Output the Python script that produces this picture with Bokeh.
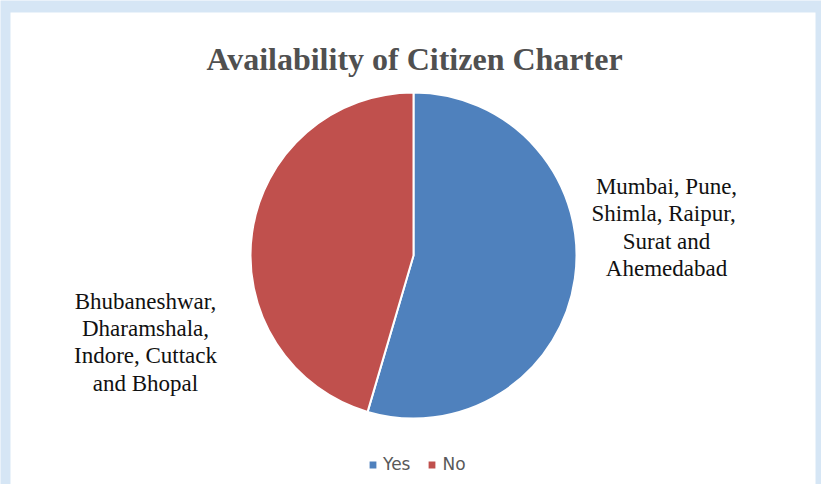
import math
from bokeh.plotting import figure
from bokeh.models import Range1d, Legend, LegendItem, ColumnDataSource
from bokeh.core.properties import value
from bokeh.embed import file_html
from bokeh.resources import INLINE

# ---- data ----
title_text = "Availability of Citizen Charter"
categories = ["Yes", "No"]
counts = [6, 5]  # number of cities
colors = ["#4f81bd", "#c0504d"]
yes_label_lines = ["Mumbai, Pune,", "Shimla,  Raipur,", "Surat and", "Ahemedabad"]
no_label_lines = ["Bhubaneshwar,", "Dharamshala,", "Indore, Cuttack", "and Bhopal"]

W, H = 821, 484
p = figure(width=W, height=H, output_backend="svg", toolbar_location=None,
           x_range=Range1d(0, W), y_range=Range1d(0, H), min_border=0)
p.axis.visible = False
p.grid.visible = False
p.outline_line_color = None
p.background_fill_color = "#d6e6f5"
p.border_fill_color = "#d6e6f5"

# white panel
p.quad(left=[10], right=[815], bottom=[0], top=[H - 12], fill_color="white", line_color=None)

# pie
cx, cy, r = 413, H - 255, 163
total = sum(counts)
starts, ends = [], []
acc = 0.0
for c in counts:
    a0 = math.pi / 2 - 2 * math.pi * acc / total
    acc += c
    a1 = math.pi / 2 - 2 * math.pi * acc / total
    starts.append(a0)
    ends.append(a1)
src = ColumnDataSource(dict(cat=categories, start=starts, end=ends, color=colors,
                            x=[cx] * 2, y=[cy] * 2))
wr = p.wedge(x="x", y="y", radius=r, start_angle="start", end_angle="end",
             direction="clock", fill_color="color", line_color="white", line_width=2,
             source=src)

# title
p.text(x=[414], y=[H - 58], text=[title_text], text_font=value("Liberation Serif"),
       text_font_style="bold", text_font_size="32px", text_color="#505050",
       text_align="center", text_baseline="alphabetic")

# data labels
ys_right = [186, 213, 241, 268]
p.text(x=[666] * 4, y=[H - v for v in ys_right], text=yes_label_lines,
       text_font=value("Liberation Serif"), text_font_size="23px", text_color="#111111",
       text_align="center", text_baseline="middle")
ys_left = [301, 328, 355, 383]
p.text(x=[145] * 4, y=[H - v for v in ys_left], text=no_label_lines,
       text_font=value("Liberation Serif"), text_font_size="23px", text_color="#111111",
       text_align="center", text_baseline="middle")

# legend
items = [LegendItem(label=categories[i], renderers=[wr], index=i) for i in range(2)]
legend = Legend(items=items, orientation="horizontal", location=(367, 10),
                border_line_color=None, background_fill_alpha=0, padding=0, margin=0,
                spacing=16, glyph_width=11, glyph_height=11, label_standoff=5,
                label_text_font="DejaVu Sans", label_text_font_size="17px",
                label_text_color="#595959")
p.add_layout(legend, "center")

open("out.html", "w").write(file_html(p, INLINE))
